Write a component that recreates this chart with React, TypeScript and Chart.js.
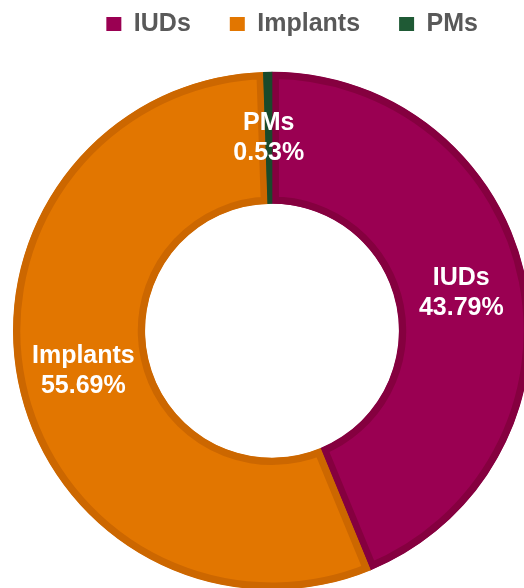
import React, { useEffect, useRef } from "react";
import { Chart, registerables } from "chart.js";

Chart.register(...registerables);

const categories = ["IUDs", "Implants", "PMs"];
const shares = [43.79, 55.69, 0.53];
const shareLabels = ["43.79%", "55.69%", "0.53%"];
const fillColors = ["#9A0052", "#E27600", "#1F5A35"];
const edgeColors = ["#85003F", "#CC6700", "#194A2B"];

const FONT = "'Liberation Sans', Arial, sans-serif";

const sliceLabels = {
  id: "sliceLabels",
  afterDatasetsDraw(chart: any) {
    const ctx = chart.ctx;
    const meta = chart.getDatasetMeta(0);
    ctx.save();
    ctx.fillStyle = "#FFFFFF";
    ctx.font = `bold 25px ${FONT}`;
    ctx.textAlign = "center";
    ctx.textBaseline = "middle";
    meta.data.forEach((arc: any, i: number) => {
      const p = arc.tooltipPosition();
      ctx.fillText(categories[i], p.x, p.y - 15);
      ctx.fillText(shareLabels[i], p.x, p.y + 15);
    });
    ctx.restore();
  },
};

export default function App() {
  const ref = useRef<HTMLCanvasElement | null>(null);
  useEffect(() => {
    if (!ref.current) return;
    const chart = new Chart(ref.current, {
      type: "doughnut",
      data: {
        labels: categories,
        datasets: [
          {
            data: shares,
            backgroundColor: fillColors,
            borderColor: edgeColors,
            borderWidth: 7,
            borderAlign: "inner",
            hoverOffset: 0,
          } as any,
        ],
      },
      options: {
        animation: false,
        responsive: false,
        maintainAspectRatio: false,
        radius: 259,
        cutout: "49%",
        layout: { padding: { left: 27, right: 7, top: -27.5, bottom: 0 } },
        plugins: {
          tooltip: { enabled: false },
          legend: {
            position: "top",
            align: "end",
            labels: {
              color: "#595959",
              font: { family: FONT, size: 25, weight: "bold" },
              boxWidth: 15,
              boxHeight: 14,
              padding: 39,
              generateLabels: (c: any) =>
                categories.map((name, i) => ({
                  text: name,
                  fillStyle: fillColors[i],
                  strokeStyle: fillColors[i],
                  lineWidth: 0,
                  hidden: false,
                  index: i,
                  fontColor: "#595959",
                })),
            },
          },
        },
      } as any,
      plugins: [sliceLabels],
    });
    return () => chart.destroy();
  }, []);
  return (
    <div style={{ position: "fixed", left: 0, top: 0, width: 524, height: 588, overflow: "hidden", background: "#FFFFFF" }}>
      <canvas ref={ref} width={524} height={615} style={{ display: "block", width: 524, height: 615 }} />
    </div>
  );
}
